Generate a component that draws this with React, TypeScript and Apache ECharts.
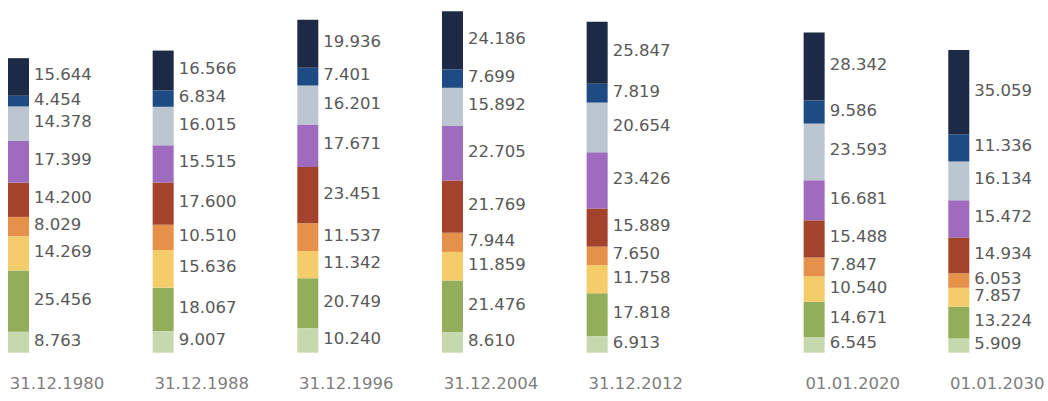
import React, { useEffect, useRef } from "react";
import * as echarts from "echarts";

const categories = ["31.12.1980", "31.12.1988", "31.12.1996", "31.12.2004", "31.12.2012", "01.01.2020", "01.01.2030"];
// horizontal slot of each category (the axis leaves a wider gap before 2020)
const slots = [0, 1, 2, 3, 4, 5.5, 6.5];

const s1 = [8.763, 9.007, 10.24, 8.61, 6.913, 6.545, 5.909];
const s2 = [25.456, 18.067, 20.749, 21.476, 17.818, 14.671, 13.224];
const s3 = [14.269, 15.636, 11.342, 11.859, 11.758, 10.54, 7.857];
const s4 = [8.029, 10.51, 11.537, 7.944, 7.65, 7.847, 6.053];
const s5 = [14.2, 17.6, 23.451, 21.769, 15.889, 15.488, 14.934];
const s6 = [17.399, 15.515, 17.671, 22.705, 23.426, 16.681, 15.472];
const s7 = [14.378, 16.015, 16.201, 15.892, 20.654, 23.593, 16.134];
const s8 = [4.454, 6.834, 7.401, 7.699, 7.819, 9.586, 11.336];
const s9 = [15.644, 16.566, 19.936, 24.186, 25.847, 28.342, 35.059];

const seriesValues = [s1, s2, s3, s4, s5, s6, s7, s8, s9];
const colors = ["#c6d8ae", "#93ae5b", "#f5cc6a", "#e69149", "#a3432c", "#9e6bbf", "#bcc6d1", "#1f4b85", "#1c2a45"];

const FONT = "'DejaVu Sans', Verdana, sans-serif";
const TEXT = "#595959";

// half-step axis slots
const halfSlots = slots.map((s) => Math.round(s * 2));
const nSlots = halfSlots[halfSlots.length - 1] + 1;
const axisCats = Array.from({ length: nSlots }, (_, k) => {
  const i = halfSlots.indexOf(k);
  return i >= 0 ? categories[i] : "";
});

function spread(vals: number[]) {
  const out: any[] = Array.from({ length: nSlots }, () => "-");
  halfSlots.forEach((k, i) => (out[k] = vals[i]));
  return out;
}

export default function App() {
  const ref = useRef<HTMLDivElement>(null);
  useEffect(() => {
    document.body.style.margin = "0";
    if (!ref.current) return;
    const chart = echarts.init(ref.current, undefined, { renderer: "svg" });
    const barSeries = seriesValues.map((vals, si) => ({
      type: "bar",
      stack: "total",
      barWidth: 21,
      clip: false,
      silent: true,
      itemStyle: { color: colors[si] },
      label: {
        show: true,
        position: "right",
        distance: 5,
        offset: [0, -2],
        color: TEXT,
        fontSize: 16.5,
        fontFamily: FONT,
        formatter: (p: any) => Number(p.value).toFixed(3),
      },
      data: spread(vals),
    }));
    const option: any = {
      animation: false,
      grid: { left: 18.5, right: 89.2, top: 0, bottom: 48.3 },
      xAxis: { type: "category", data: axisCats, boundaryGap: false, show: false },
      yAxis: { type: "value", min: 0, max: 146.8, show: false },
      series: [
        ...barSeries,
        {
          type: "scatter",
          symbolSize: 1,
          clip: false,
          silent: true,
          itemStyle: { color: "rgba(0,0,0,0)" },
          label: {
            show: true,
            position: "inside",
            offset: [38.5, 31],
            formatter: "{b}",
            color: TEXT,
            fontSize: 16.5,
            fontFamily: FONT,
          },
          data: halfSlots.map((k, i) => ({ name: categories[i], value: [k, 0] })),
        },
      ],
    };
    chart.setOption(option);
    return () => chart.dispose();
  }, []);
  return (
    <div
      ref={ref}
      style={{ position: "fixed", left: 0, top: 0, width: 1048, height: 401, background: "#fff" }}
    />
  );
}
